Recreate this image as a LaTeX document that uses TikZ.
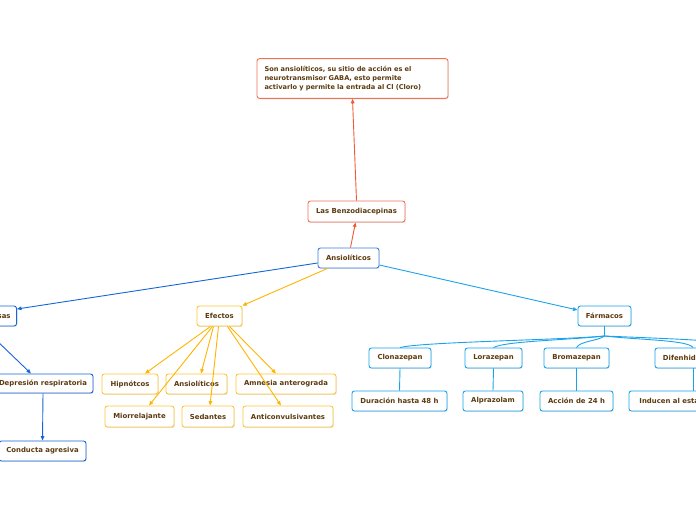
\documentclass[tikz,border=0pt]{standalone}
\usepackage{fontspec}
\setmainfont{DejaVu Sans}
\usetikzlibrary{arrows.meta, shadows}

\definecolor{txtbrown}{HTML}{5C3A0E}
\definecolor{redline}{HTML}{F05A3A}
\definecolor{redbox}{HTML}{F07356}
\definecolor{bluebox}{HTML}{3C7FE0}
\definecolor{blueline}{HTML}{1565D8}
\definecolor{yelline}{HTML}{FFB400}
\definecolor{yelbox}{HTML}{FFC53A}
\definecolor{cyanline}{HTML}{1AA3EA}

\tikzset{
  mapbox/.style={draw, fill=white, rounded corners=2.5pt, line width=0.9pt,
    text=txtbrown, font=\fontsize{6.9}{9}\selectfont\bfseries,
    minimum height=20pt, inner xsep=6pt,
    drop shadow={shadow xshift=0.7pt, shadow yshift=-0.9pt, opacity=0.25}},
  link/.style={line width=0.9pt, -{Triangle[length=4.5pt, width=3.6pt]}},
}

\begin{document}
\begin{tikzpicture}[x=1pt, y=-1pt]
	\useasboundingbox (0,0) rectangle (696,520);
	\clip (0,0) rectangle (696,520);

	% centre and top
	\node[mapbox, draw=redbox, align=left, text width=176pt, inner sep=7.5pt, minimum height=37pt,
		font=\fontsize{6.6}{9}\selectfont\bfseries] (idea) at (352.5,78.5)
		{Son ansiolíticos, su sitio de acción es el\\ neurotransmisor GABA, esto permite\\ activarlo y permite la entrada al Cl (Cloro)};
	\node[mapbox, draw=redbox, minimum width=97pt, minimum height=21pt] (benzo) at (356.5,211.5) {Las Benzodiacepinas};
	\node[mapbox, draw=bluebox, minimum width=61pt] (ansio) at (348.5,258) {Ansiolíticos};

	% left branch
	\node[mapbox, draw=blueline, anchor=east] (advers) at (17,316) {Reacciones adversas};
	\node[mapbox, draw=blueline, minimum width=100pt, minimum height=19pt] (depres) at (43,383.5) {Depresión respiratoria};
	\node[mapbox, draw=blueline, minimum width=87pt] (conduc) at (42.5,451) {Conducta agresiva};

	% effects
	\node[mapbox, draw=yelbox, minimum width=45pt] (efect) at (219.5,316) {Efectos};
	\node[mapbox, draw=yelbox, minimum width=56pt] (hipno) at (130,384) {Hipnótcos};
	\node[mapbox, draw=yelbox, minimum width=61pt] (ansdos) at (196.5,384) {Ansiolíticos};
	\node[mapbox, draw=yelbox, minimum width=100pt] (amnes) at (286,384) {Amnesia anterograda};
	\node[mapbox, draw=yelbox, minimum width=69pt, minimum height=21pt] (mior) at (139.5,416.5) {Miorrelajante};
	\node[mapbox, draw=yelbox, minimum width=52pt, minimum height=21pt] (sedan) at (208,416.5) {Sedantes};
	\node[mapbox, draw=yelbox, minimum width=90pt, minimum height=21pt] (convul) at (288,416.5) {Anticonvulsivantes};

	% drugs
	\node[mapbox, draw=cyanline, minimum width=53pt] (farma) at (604.5,316) {Fármacos};
	\node[mapbox, draw=cyanline, minimum width=62pt] (clona) at (400,358) {Clonazepan};
	\node[mapbox, draw=cyanline, minimum width=57pt] (loraz) at (493.5,358) {Lorazepan};
	\node[mapbox, draw=cyanline, minimum width=65pt] (broma) at (576.5,358) {Bromazepan};
	\node[mapbox, draw=cyanline, minimum width=76pt] (difen) at (693,358) {Difenhidramina};
	\node[mapbox, draw=cyanline, minimum width=95pt] (durac) at (399.5,401) {Duración hasta 48 h};
	\node[mapbox, draw=cyanline, minimum width=60pt] (alpra) at (493,401) {Alprazolam};
	\node[mapbox, draw=cyanline, minimum width=73pt] (accion) at (576.5,401) {Acción de 24 h};
	\node[mapbox, draw=cyanline, minimum width=128pt] (induc) at (693,401) {Inducen al estado de sueño};
	\coordinate (farmafork) at (604.5,336);
	\coordinate (farmaout) at (760,346);

	% connectors
	\draw[link, redline] ([xshift=2pt]ansio.north) -- ([xshift=-1pt]benzo.south);
	\draw[link, redline] (benzo.north) -- (idea.south);
	\draw[link, blueline] ([yshift=-5pt]ansio.west) -- ([yshift=7pt]advers.east);
	\draw[link, blueline] ([xshift=12pt]advers.south) -- ([xshift=-12pt]depres.north);
	\draw[link, blueline] (depres.south) -- (conduc.north);
	\draw[link, yelline] ([xshift=-21pt]ansio.south) -- (efect.north east);
	\draw[link, cyanline] ([yshift=-7pt]ansio.east) -- ([yshift=6pt]farma.west);

	\draw[link, yelline] ([xshift=-9pt]efect.south) -- ([xshift=15pt]hipno.north);
	\draw[link, yelline] ([xshift=-7pt]efect.south) -- ([xshift=9.5pt]mior.north);
	\draw[link, yelline] ([xshift=-6pt]efect.south) -- ([xshift=4.5pt]ansdos.north);
	\draw[link, yelline] ([xshift=-1pt]efect.south) -- ([xshift=2pt]sedan.north);
	\draw[link, yelline] ([xshift=8pt]efect.south) -- ([xshift=-7pt]convul.north);
	\draw[link, yelline] ([xshift=10pt]efect.south) -- ([xshift=-10pt]amnes.north);

	\begin{scope}[cyanline, line width=0.9pt]
		\draw (farma.south) -- (farmafork);
		\draw (farmafork) .. controls (560,340) and (420,342) .. (clona.north);
		\draw (farmafork) .. controls (570,340) and (505,341) .. (loraz.north);
		\draw (farmafork) .. controls (598,341) and (580,341) .. (broma.north);
		\draw (farmafork) .. controls (640,340) and (688,340) .. (difen.north);
		\draw (farmafork) .. controls (650,338) and (720,340) .. (farmaout);
		\draw (clona.south) -- (durac.north);
		\draw (loraz.south) -- (alpra.north);
		\draw (broma.south) -- (accion.north);
		\draw (difen.south) -- (induc.north);
	\end{scope}
\end{tikzpicture}
\end{document}
